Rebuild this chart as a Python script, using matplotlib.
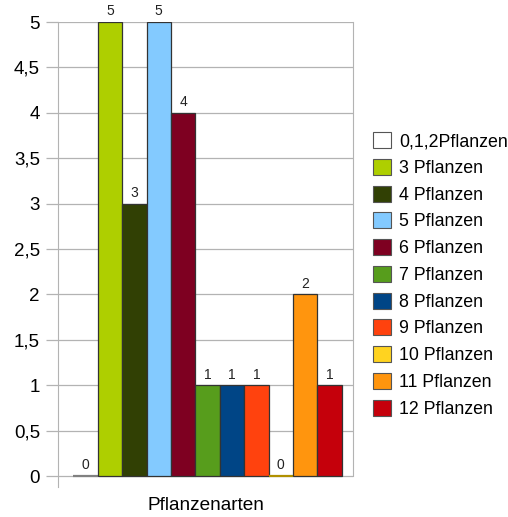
import matplotlib
matplotlib.use("Agg")
import matplotlib.pyplot as plt
import numpy as np

plt.rcParams['font.family'] = ['Liberation Sans', 'DejaVu Sans']

series = ["0,1,2Pflanzen", "3 Pflanzen", "4 Pflanzen", "5 Pflanzen", "6 Pflanzen",
          "7 Pflanzen", "8 Pflanzen", "9 Pflanzen", "10 Pflanzen", "11 Pflanzen", "12 Pflanzen"]
values = [0, 5, 3, 5, 4, 1, 1, 1, 0, 2, 1]
colors = ["#ffffff", "#aecf00", "#314004", "#83caff", "#7e0021", "#579d1c",
          "#004586", "#ff420e", "#ffd320", "#ff950e", "#c5000b"]
category = "Pflanzenarten"
yticks = [0, 0.5, 1, 1.5, 2, 2.5, 3, 3.5, 4, 4.5, 5]
ytick_labels = ["0", "0,5", "1", "1,5", "2", "2,5", "3", "3,5", "4", "4,5", "5"]

fig = plt.figure(figsize=(5.08, 5.17), dpi=100)
ax = fig.add_axes([58/508, 30/517, 295/508, 465/517])

n = len(series)
group_w = 0.91
bw = group_w / n
offset = 0.007
for i, (s, v, c) in enumerate(zip(series, values, colors)):
    x = offset - group_w/2 + bw*(i + 0.5)
    ec = "#333333"
    if v == 0:
        ec = "#808080" if c == "#ffffff" else "#b09000"
    ax.bar(x, v, width=bw, color=c, edgecolor=ec, linewidth=0.9 if v else 1.6,
           label=s, zorder=3)
    ax.text(x, v + 0.04, str(v), ha="center", va="bottom", fontsize=10,
            color="#222222", zorder=4)

ax.set_xlim(-0.5, 0.5)
ax.set_ylim(-0.121, 5)
ax.set_yticks(yticks)
ax.set_yticklabels(ytick_labels, fontsize=13.5)
ax.set_xticks([])
ax.yaxis.grid(True, color="#b3b3b3", linewidth=0.9, zorder=0)
ax.set_axisbelow(True)
for side in ["top", "bottom"]:
    ax.spines[side].set_visible(False)
ax.spines["left"].set_color("#b3b3b3")
ax.spines["right"].set_color("#b3b3b3")
ax.spines["right"].set_bounds(0, 5)
ax.tick_params(axis="y", length=9, color="#b3b3b3", width=0.9, pad=4)
ax.set_xlabel(category, fontsize=13.7, labelpad=7)

leg = ax.legend(loc="upper left", bbox_to_anchor=((366 - 58)/295, 1 - 103/465), frameon=False,
                fontsize=12.8, handlelength=1.0, handleheight=1.0, handletextpad=0.45,
                labelspacing=0.49, borderaxespad=0)
for p in leg.get_patches():
    p.set_edgecolor("#555555")
    p.set_linewidth(0.8)

fig.savefig("out.png", dpi=100)
